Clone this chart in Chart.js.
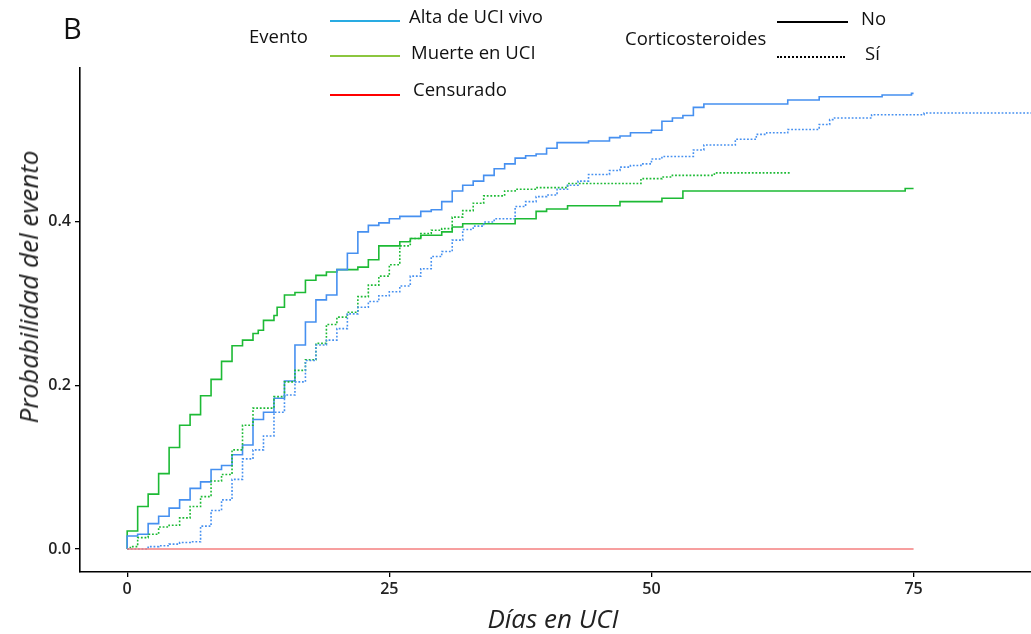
<!DOCTYPE html>
<html>
<head>
<meta charset="utf-8">
<script src="https://cdn.jsdelivr.net/npm/chart.js@4"></script>
<style>
  html, body { margin: 0; padding: 0; background: #fff; }
  #wrap { position: relative; width: 1031px; height: 634px; font-family: "Open Sans", Lato, sans-serif; color: #111; overflow: hidden; }
  canvas { position: absolute; left: 0; top: 0; }
  .t { position: absolute; font-size: 18.5px; white-space: nowrap; line-height: 1; }
  .ln { position: absolute; height: 0; }
  .ttl { position: absolute; font-size: 26px; font-style: italic; white-space: nowrap; line-height: 1; color: #222; }
</style>
</head>
<body>
<div id="wrap">
  <canvas id="c" width="1031" height="634"></canvas>
  <div class="t" style="left:63px; top:13px; font-size:29px;">B</div>
  <div class="t" style="left:249px; top:27px;">Evento</div>
  <div class="ln" style="left:330px; top:20px; width:70px; border-top:2.5px solid #29ABE2;"></div>
  <div class="t" style="left:409px; top:7px;">Alta de UCI vivo</div>
  <div class="ln" style="left:330px; top:55px; width:70px; border-top:2.5px solid #8CC63F;"></div>
  <div class="t" style="left:411px; top:43px;">Muerte en UCI</div>
  <div class="ln" style="left:330px; top:94px; width:70px; border-top:2.5px solid #FF0000;"></div>
  <div class="t" style="left:413px; top:80px;">Censurado</div>
  <div class="t" style="left:625px; top:29px;">Corticosteroides</div>
  <div class="ln" style="left:777px; top:21px; width:71px; border-top:2.5px solid #000;"></div>
  <div class="t" style="left:861px; top:9px;">No</div>
  <div class="ln" style="left:777px; top:56px; width:68px; border-top:2.5px dotted #000;"></div>
  <div class="t" style="left:865px; top:44px;">Sí</div>
  <div class="ttl" id="ytitle" style="left:28px; top:287px; transform: translate(-50%,-50%) rotate(-90deg);">Probabilidad del evento</div>
  <div class="ttl" id="xtitle" style="left:553px; top:618px; transform: translate(-50%,-50%);">Días en UCI</div>
</div>
<script>
// ---- data ----
const xTicks = [0, 25, 50, 75];
const yTicks = [0, 0.2, 0.4];

const altaNoDays = [0, 0, 1, 2, 3, 4, 5, 6, 7, 8, 9, 10, 11, 12, 13, 14, 15, 16, 17, 18, 19, 20, 21, 22, 23, 24, 25, 26, 28, 29, 30, 31, 32, 33, 34, 35, 36, 37, 38, 39, 40, 41, 44, 46, 47, 48, 50, 51, 52, 53, 54, 55, 63, 66, 72, 74.8, 75];
const altaNoProb = [0, 0.016, 0.018, 0.031, 0.040, 0.050, 0.060, 0.074, 0.082, 0.097, 0.102, 0.115, 0.127, 0.158, 0.167, 0.184, 0.205, 0.249, 0.277, 0.304, 0.310, 0.341, 0.361, 0.387, 0.395, 0.398, 0.403, 0.406, 0.412, 0.414, 0.424, 0.437, 0.444, 0.449, 0.456, 0.464, 0.470, 0.477, 0.480, 0.482, 0.489, 0.496, 0.498, 0.502, 0.504, 0.508, 0.511, 0.522, 0.526, 0.529, 0.539, 0.543, 0.548, 0.552, 0.554, 0.556, 0.556];

const muerteNoDays = [0, 0, 1, 2, 3, 4, 5, 6, 7, 8, 9, 10, 11, 12, 12.5, 13, 14, 14.3, 15, 16, 17, 18, 19, 20, 22, 23, 24, 26, 27, 28, 30, 31, 32, 37, 39, 40, 42, 47, 51, 53, 74.2, 75];
const muerteNoProb = [0, 0.022, 0.052, 0.067, 0.092, 0.124, 0.151, 0.164, 0.187, 0.207, 0.229, 0.248, 0.255, 0.263, 0.267, 0.279, 0.285, 0.295, 0.310, 0.313, 0.328, 0.334, 0.338, 0.341, 0.344, 0.353, 0.370, 0.375, 0.379, 0.383, 0.387, 0.393, 0.397, 0.403, 0.412, 0.415, 0.419, 0.424, 0.428, 0.437, 0.440, 0.440];

const altaSiDays = [0, 2, 3, 4, 5, 6, 7, 8, 9, 10, 11, 12, 13, 14, 15, 16, 17, 18, 19, 20, 21, 22, 23, 24, 25, 26, 27, 28, 29, 30, 31, 32, 33, 34, 35, 37, 38, 39, 40, 41, 42, 43, 44, 46, 47, 48, 49, 50, 51, 54, 55, 58, 60, 61, 63, 66, 67, 67.3, 71, 76, 90];
const altaSiProb = [0, 0.003, 0.004, 0.006, 0.008, 0.009, 0.028, 0.047, 0.060, 0.085, 0.110, 0.121, 0.138, 0.167, 0.188, 0.204, 0.230, 0.249, 0.255, 0.269, 0.287, 0.295, 0.302, 0.309, 0.314, 0.321, 0.333, 0.342, 0.357, 0.363, 0.377, 0.390, 0.394, 0.399, 0.403, 0.418, 0.424, 0.430, 0.432, 0.439, 0.444, 0.449, 0.457, 0.462, 0.466, 0.468, 0.470, 0.476, 0.479, 0.487, 0.493, 0.500, 0.506, 0.508, 0.512, 0.518, 0.524, 0.526, 0.530, 0.532, 0.532];

const muerteSiDays = [0, 0.3, 1, 2, 3, 4, 5, 6, 7, 8, 9, 10, 11, 12, 14, 15, 16, 17, 18, 19, 20, 21, 22, 23, 24, 25, 26, 27, 28, 29, 30, 31, 32, 33, 34, 36, 37, 39, 42, 49, 51, 52, 56, 63.2];
const muerteSiProb = [0, 0.003, 0.014, 0.018, 0.027, 0.029, 0.038, 0.052, 0.064, 0.083, 0.091, 0.121, 0.151, 0.172, 0.186, 0.204, 0.218, 0.231, 0.251, 0.274, 0.283, 0.289, 0.308, 0.322, 0.333, 0.347, 0.370, 0.379, 0.385, 0.389, 0.391, 0.405, 0.413, 0.422, 0.431, 0.437, 0.439, 0.441, 0.446, 0.452, 0.454, 0.456, 0.459, 0.459];

const censDays = [0, 75];
const censProb = [0, 0];

const pts = (d, p) => d.map((x, i) => ({ x: x, y: p[i] }));

const BLUE = '#4690F0';
const GREEN = '#1DBA35';
const RED = '#F47F7F';

function ds(data, color, dotted) {
  return {
    data: data,
    borderColor: color,
    borderWidth: 1.6,
    borderDash: dotted ? [1.8, 1.8] : [],
    stepped: 'before',
    pointRadius: 0,
    fill: false,
    tension: 0
  };
}

const tickFont = { family: '"Open Sans", Lato, sans-serif', size: 16, weight: '600' };

new Chart(document.getElementById('c'), {
  type: 'line',
  data: {
    datasets: [
      ds(pts(censDays, censProb), RED, false),
      ds(pts(altaSiDays, altaSiProb), BLUE, true),
      ds(pts(muerteSiDays, muerteSiProb), GREEN, true),
      ds(pts(altaNoDays, altaNoProb), BLUE, false),
      ds(pts(muerteNoDays, muerteNoProb), GREEN, false)
    ]
  },
  options: {
    responsive: false,
    animation: false,
    layout: { padding: { top: 68, right: 0, left: 0, bottom: 0 } },
    plugins: { legend: { display: false }, tooltip: { enabled: false } },
    scales: {
      x: {
        type: 'linear',
        min: -4.5,
        max: 86.2,
        afterBuildTicks: s => { s.ticks = xTicks.map(v => ({ value: v })); },
        afterFit: s => { s.height = 62; },
        border: { display: true, color: '#000', width: 1.6 },
        grid: { display: true, drawOnChartArea: false, drawTicks: true, tickLength: 5, color: '#000', lineWidth: 1.3 },
        ticks: { color: '#222', font: tickFont, padding: 3, maxRotation: 0, callback: v => String(v) },
        title: { display: false }
      },
      y: {
        type: 'linear',
        min: -0.028,
        max: 0.587,
        afterBuildTicks: s => { s.ticks = yTicks.map(v => ({ value: v })); },
        afterFit: s => { s.width = 80; },
        border: { display: true, color: '#000', width: 1.6 },
        grid: { display: true, drawOnChartArea: false, drawTicks: true, tickLength: 5, color: '#000', lineWidth: 1.3 },
        ticks: { color: '#222', font: tickFont, padding: 4, callback: v => Number(v).toFixed(1) },
        title: { display: false }
      }
    }
  }
});
</script>
</body>
</html>
